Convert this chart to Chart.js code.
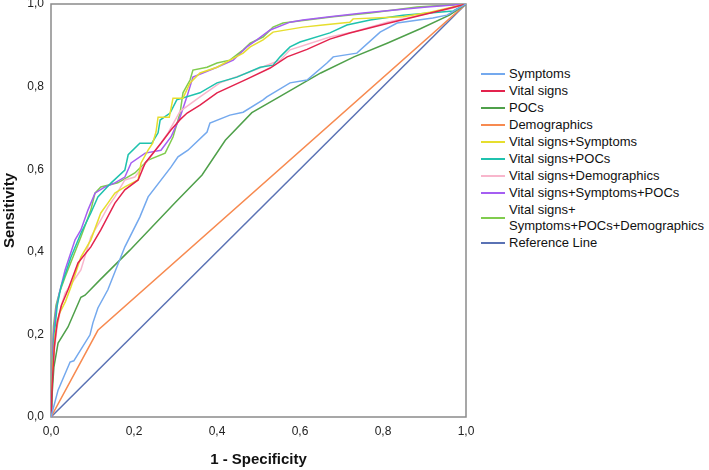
<!DOCTYPE html>
<html>
<head>
<meta charset="utf-8">
<script src="https://cdn.jsdelivr.net/npm/chart.js@4/dist/chart.umd.min.js"></script>
<style>
  body { margin: 0; background: #fff; font-family: "Liberation Sans", Arial, sans-serif; }
  #wrap { position: relative; width: 709px; height: 470px; }
  #roc { position: absolute; left: 0; top: 0; }
  #legend { position: absolute; left: 481px; top: 65px; font-size: 13px; color: #111; }
  .row { display: flex; align-items: center; line-height: 16px; padding: 0.5px 0; }
  .swatch { width: 24px; height: 2px; margin-right: 4px; flex: none; }
</style>
</head>
<body>
<div id="wrap">
  <canvas id="roc" width="478" height="470"></canvas>
  <div id="legend"></div>
</div>
<script>
// curve labels, in legend order
var labels = ['Symptoms', 'Vital signs', 'POCs', 'Demographics', 'Vital signs+Symptoms',
  'Vital signs+POCs', 'Vital signs+Demographics', 'Vital signs+Symptoms+POCs',
  'Vital signs+\nSymptoms+POCs+Demographics', 'Reference Line'];
var colors = ['#74a9ee', '#e3234d', '#4fa04a', '#f78a50', '#e6de2e',
  '#1fc2ae', '#f8b6cc', '#a55ef2', '#80cc4e', '#5a72b4'];

// [1 - specificity, sensitivity]
var symptoms = [[0,0],[0.017,0.065],[0.046,0.133],[0.055,0.136],[0.094,0.199],[0.101,0.228],[0.113,0.264],
  [0.137,0.308],[0.178,0.412],[0.214,0.484],[0.234,0.533],[0.289,0.605],[0.306,0.63],[0.33,0.646],
  [0.376,0.69],[0.383,0.712],[0.431,0.731],[0.463,0.738],[0.511,0.768],[0.52,0.775],[0.576,0.809],
  [0.617,0.816],[0.665,0.857],[0.68,0.872],[0.737,0.881],[0.793,0.932],[0.834,0.954],[0.92,0.966],
  [0.954,0.973],[1,1]];
var vitalSigns = [[0,0],[0.003,0.08],[0.008,0.17],[0.015,0.23],[0.025,0.27],[0.041,0.308],[0.065,0.373],
  [0.096,0.412],[0.12,0.453],[0.154,0.518],[0.178,0.55],[0.21,0.574],[0.227,0.615],[0.265,0.663],
  [0.289,0.695],[0.311,0.72],[0.328,0.736],[0.359,0.755],[0.4,0.785],[0.472,0.818],[0.528,0.845],
  [0.569,0.872],[0.617,0.89],[0.672,0.915],[0.72,0.93],[0.81,0.953],[0.954,0.988],[1,1]];
var pocs = [[0,0],[0.003,0.06],[0.007,0.121],[0.017,0.179],[0.041,0.218],[0.072,0.29],[0.082,0.295],
  [0.118,0.332],[0.19,0.404],[0.3,0.52],[0.364,0.586],[0.42,0.67],[0.484,0.737],[0.55,0.775],
  [0.65,0.833],[0.73,0.872],[0.81,0.905],[0.89,0.94],[0.96,0.973],[1,1]];
var demographics = [[0,0],[0.113,0.21],[1,1]];
var vsSymptoms = [[0,0],[0.004,0.12],[0.01,0.2],[0.02,0.25],[0.035,0.28],[0.048,0.315],[0.072,0.387],
  [0.096,0.429],[0.12,0.494],[0.137,0.518],[0.154,0.542],[0.178,0.557],[0.21,0.574],[0.217,0.615],
  [0.234,0.646],[0.245,0.663],[0.253,0.69],[0.258,0.726],[0.285,0.726],[0.294,0.772],[0.318,0.772],
  [0.335,0.809],[0.359,0.833],[0.4,0.847],[0.431,0.864],[0.463,0.881],[0.48,0.896],[0.511,0.913],
  [0.535,0.932],[0.607,0.944],[0.655,0.949],[0.72,0.956],[0.728,0.964],[0.848,0.969],[0.913,0.98],[1,1]];
var vsPocs = [[0,0],[0.003,0.1],[0.008,0.2],[0.015,0.27],[0.024,0.315],[0.048,0.387],[0.072,0.445],
  [0.096,0.494],[0.113,0.533],[0.145,0.567],[0.178,0.598],[0.186,0.635],[0.214,0.663],[0.243,0.663],
  [0.258,0.688],[0.263,0.719],[0.287,0.736],[0.303,0.768],[0.359,0.785],[0.4,0.809],[0.448,0.823],
  [0.504,0.847],[0.535,0.852],[0.552,0.872],[0.576,0.896],[0.6,0.908],[0.672,0.93],[0.713,0.949],
  [0.769,0.961],[0.848,0.973],[0.969,0.983],[1,1]];
var vsDemographics = [[0,0],[0.003,0.08],[0.008,0.16],[0.015,0.22],[0.025,0.27],[0.034,0.3],[0.072,0.356],
  [0.096,0.436],[0.12,0.477],[0.137,0.508],[0.154,0.533],[0.178,0.574],[0.202,0.581],[0.234,0.622],
  [0.258,0.654],[0.282,0.688],[0.311,0.74],[0.359,0.775],[0.407,0.809],[0.472,0.833],[0.552,0.864],
  [0.576,0.889],[0.672,0.92],[0.728,0.932],[0.81,0.956],[0.969,0.99],[1,1]];
var vsSymPocs = [[0,0],[0.002,0.1],[0.006,0.2],[0.012,0.26],[0.02,0.3],[0.034,0.356],[0.058,0.429],
  [0.072,0.453],[0.089,0.501],[0.106,0.542],[0.13,0.557],[0.154,0.567],[0.178,0.581],[0.193,0.615],
  [0.227,0.639],[0.265,0.646],[0.289,0.678],[0.311,0.726],[0.328,0.777],[0.342,0.823],[0.4,0.847],
  [0.439,0.864],[0.472,0.896],[0.496,0.913],[0.528,0.937],[0.576,0.956],[0.607,0.961],[0.672,0.969],
  [0.752,0.978],[0.906,0.993],[1,1]];
var vsAll = [[0,0],[0.002,0.12],[0.006,0.22],[0.012,0.27],[0.02,0.3],[0.034,0.339],[0.072,0.436],
  [0.096,0.501],[0.106,0.542],[0.12,0.557],[0.161,0.567],[0.202,0.591],[0.234,0.622],[0.275,0.639],
  [0.294,0.678],[0.311,0.736],[0.318,0.785],[0.335,0.816],[0.342,0.84],[0.376,0.847],[0.4,0.857],
  [0.431,0.864],[0.463,0.889],[0.48,0.905],[0.511,0.92],[0.535,0.944],[0.559,0.954],[0.617,0.961],
  [0.68,0.969],[0.769,0.978],[0.882,0.993],[1,1]];
var reference = [[0,0],[1,1]];

var curves = [symptoms, vitalSigns, pocs, demographics, vsSymptoms, vsPocs,
  vsDemographics, vsSymPocs, vsAll, reference];
var axisTicks = [0, 0.2, 0.4, 0.6, 0.8, 1];

function fmt(v) { return v.toFixed(1).replace('.', ','); }

var datasets = curves.map(function (c, i) {
  return {
    label: labels[i],
    data: c.map(function (p) { return { x: p[0], y: p[1] }; }),
    borderColor: colors[i],
    borderWidth: 1.5,
    pointRadius: 0,
    tension: 0,
    fill: false
  };
});

// grey frame round the plot area
var framePlugin = {
  id: 'frame',
  beforeDatasetsDraw: function (chart) {
    var a = chart.chartArea, ctx = chart.ctx;
    ctx.save();
    ctx.strokeStyle = '#8a8a8a';
    ctx.lineWidth = 1.5;
    ctx.strokeRect(a.left, a.top, a.right - a.left, a.bottom - a.top);
    ctx.restore();
  }
};

function noPad(s) { s.paddingTop = 0; s.paddingBottom = 0; s.paddingLeft = 0; s.paddingRight = 0; }
function setTicks(s) { s.ticks = axisTicks.map(function (v) { return { value: v }; }); }

new Chart(document.getElementById('roc'), {
  type: 'line',
  data: { datasets: datasets },
  plugins: [framePlugin],
  options: {
    responsive: false,
    devicePixelRatio: 1,
    animation: false,
    layout: { padding: { top: 4, right: 12, bottom: 0, left: 0 } },
    plugins: { legend: { display: false }, tooltip: { enabled: false } },
    scales: {
      x: {
        type: 'linear', min: 0, max: 1,
        afterBuildTicks: setTicks,
        afterFit: function (s) { s.height = 53; noPad(s); },
        grid: { display: false, drawTicks: false },
        border: { display: false },
        ticks: { color: '#222', font: { family: 'Liberation Sans', size: 12 }, padding: 7,
          maxRotation: 0, callback: function (v) { return fmt(v); } },
        title: { display: true, text: '1 - Specificity', color: '#111',
          font: { family: 'Liberation Sans', size: 15, weight: 'bold' }, padding: { top: 0, bottom: 1 } }
      },
      y: {
        type: 'linear', min: 0, max: 1,
        afterBuildTicks: setTicks,
        afterFit: function (s) { s.width = 51; noPad(s); },
        grid: { display: false, drawTicks: false },
        border: { display: false },
        ticks: { color: '#222', font: { family: 'Liberation Sans', size: 12 }, padding: 7,
          callback: function (v) { return fmt(v); } },
        title: { display: true, text: 'Sensitivity', color: '#111',
          font: { family: 'Liberation Sans', size: 15, weight: 'bold' }, padding: { top: 1, bottom: 0 } }
      }
    }
  }
});

// legend drawn as html so the two-line label wraps like the original
var legend = document.getElementById('legend');
labels.forEach(function (t, i) {
  var row = document.createElement('div');
  row.className = 'row';
  var sw = document.createElement('span');
  sw.className = 'swatch';
  sw.style.background = colors[i];
  var tx = document.createElement('span');
  tx.style.whiteSpace = 'pre';
  tx.textContent = t;
  row.appendChild(sw);
  row.appendChild(tx);
  legend.appendChild(row);
});
</script>
</body>
</html>
